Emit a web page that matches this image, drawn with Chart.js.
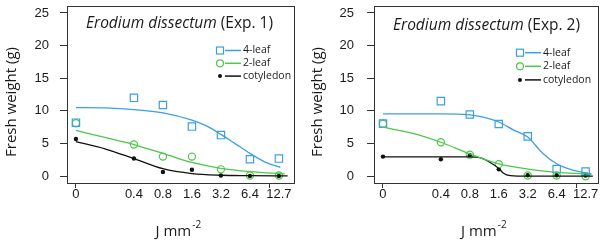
<!DOCTYPE html>
<html>
<head>
<meta charset="utf-8">
<script src="https://cdn.jsdelivr.net/npm/chart.js@4/dist/chart.umd.min.js"></script>
<style>
  html, body { margin: 0; padding: 0; background: #fff; }
  #wrap { position: relative; width: 604px; height: 240px; overflow: hidden; }
  #c1 { position: absolute; left: 0; top: 0; }
  #c2 { position: absolute; left: 300px; top: 0; }
</style>
</head>
<body>
<div id="wrap">
  <canvas id="c1" width="300" height="240"></canvas>
  <canvas id="c2" width="304" height="240"></canvas>
</div>
<script>
// x axis is categorical-ish: dose positions on an even spacing, 0 set apart
const tickLabels = ['0', '0.4', '0.8', '1.6', '3.2', '6.4', '12.7'];
const tickPos = [0, 2, 3, 4, 5, 6, 7];
const tickMarkPos = [0, 6.68];
const yTicks = [0, 5, 10, 15, 20, 25];
const seriesLabels = ['4-leaf', '2-leaf', 'cotyledon'];
const obsX = [0, 2, 3, 4, 5, 6, 7];

// Exp. 1 observations
const leaf4Obs1 = [8.2, 12.0, 10.9, 7.6, 6.3, 2.6, 2.7];
const leaf2Obs1 = [8.1, 4.85, 3.0, 3.0, 1.05, 0.1, 0.1];
const cotObs1 = [5.7, 2.7, 0.65, 1.0, 0.1, 0.05, 0.05];
// Exp. 1 fitted curves
const leaf4FitX1 = [0, 1, 2, 3, 4, 4.5, 5, 5.5, 6, 6.5, 7.05];
const leaf4Fit1 = [10.5, 10.45, 10.2, 9.7, 8.6, 7.7, 6.4, 4.95, 3.5, 2.2, 1.35];
const leaf2FitX1 = [0, 1, 2, 3, 4, 5, 6, 7.2];
const leaf2Fit1 = [7.0, 5.95, 4.85, 3.5, 2.1, 1.2, 0.7, 0.35];
const cotFitX1 = [0, 1, 2, 3, 4, 5, 6, 7.3];
const cotFit1 = [5.3, 4.2, 2.7, 1.15, 0.4, 0.15, 0.08, 0.04];

// Exp. 2 observations
const leaf4Obs2 = [8.05, 11.5, 9.45, 8.0, 6.1, 1.1, 0.7];
const leaf2Obs2 = [8.05, 5.2, 3.3, 1.85, 0.1, 0.1, 0.0];
const cotObs2 = [3.0, 2.6, 3.2, 1.05, 0.15, 0.15, 0.1];
// Exp. 2 fitted curves
const leaf4FitX2 = [0, 1, 2, 3, 3.5, 4, 4.5, 5, 5.5, 6, 6.5, 7, 7.2];
const leaf4Fit2 = [9.55, 9.55, 9.55, 9.4, 9.0, 8.3, 7.1, 6.0, 3.6, 1.9, 1.0, 0.5, 0.35];
const leaf2FitX2 = [0, 1, 2, 3, 4, 5, 6, 7, 7.2];
const leaf2Fit2 = [7.5, 6.6, 5.2, 3.4, 1.9, 1.1, 0.6, 0.35, 0.3];
const cotFitX2 = [0, 1, 2, 3, 3.35, 3.7, 4.0, 4.15, 4.4, 5, 6, 7.25];
const cotFit2 = [2.95, 2.95, 2.95, 2.95, 2.85, 2.1, 1.2, 0.5, 0.08, 0, 0, 0];

const BLUE = '#3d9fe3';
const GREEN = '#4cc84a';
const BLACK = '#111111';
const AXIS = '#333333';
const TEXT = '#1a1a1a';

Chart.defaults.font.family = '"Liberation Sans", Arial, sans-serif';
Chart.defaults.color = TEXT;

const pts = (xs, ys) => ys.map((y, i) => ({ x: xs[i], y }));

// axes must not reserve room for edge labels, the box is fixed
const noEdgePad = (s) => { s.paddingTop = 0; s.paddingBottom = 0; s.paddingLeft = 0; s.paddingRight = 0; };

const panelDecor = {
  id: 'panelDecor',
  afterDraw(chart, args, o) {
    const { ctx, chartArea: a } = chart;
    ctx.save();
    // box
    ctx.strokeStyle = AXIS;
    ctx.lineWidth = 1;
    ctx.strokeRect(Math.round(a.left) + 0.5, Math.round(a.top) + 0.5, Math.round(a.right - a.left), Math.round(a.bottom - a.top));

    // title: italic species + plain experiment
    ctx.fillStyle = TEXT;
    ctx.textBaseline = 'middle';
    ctx.textAlign = 'left';
    ctx.font = 'italic 15.5px "Open Sans", sans-serif';
    const tx = a.left + o.titleDx;
    ctx.fillText(o.species, tx, o.titleY);
    const w = ctx.measureText(o.species + ' ').width;
    ctx.font = '15.5px "Open Sans", sans-serif';
    ctx.fillText(o.exp, tx + w, o.titleY);

    // legend: marker + line + label
    ctx.font = '10.5px "Open Sans", sans-serif';
    const colors = [BLUE, GREEN, BLACK];
    seriesLabels.forEach((label, i) => {
      const y = o.legendY + i * o.legendGap;
      const mx = a.left + o.legendDx;
      ctx.strokeStyle = colors[i];
      ctx.fillStyle = colors[i];
      ctx.lineWidth = 1.2;
      if (i === 0) ctx.strokeRect(mx - 3.5, y - 3.5, 7, 7);
      if (i === 1) { ctx.beginPath(); ctx.arc(mx, y, 3.5, 0, Math.PI * 2); ctx.stroke(); }
      if (i === 2) { ctx.beginPath(); ctx.arc(mx, y, 2, 0, Math.PI * 2); ctx.fill(); }
      ctx.lineWidth = 1.5;
      ctx.beginPath(); ctx.moveTo(mx + 5, y); ctx.lineTo(mx + 21, y); ctx.stroke();
      ctx.fillStyle = TEXT;
      ctx.fillText(label, mx + 23, y);
    });

    // y title
    ctx.save();
    ctx.translate(o.yTitleX, o.yTitleY);
    ctx.rotate(-Math.PI / 2);
    ctx.textAlign = 'center';
    ctx.font = '15px "Open Sans", sans-serif';
    ctx.fillText('Fresh weight (g)', 0, 0);
    ctx.restore();

    // x title with superscript
    ctx.font = '15px "Open Sans", sans-serif';
    const main = 'J mm';
    const mw = ctx.measureText(main).width;
    ctx.font = '10px "Open Sans", sans-serif';
    const sw = ctx.measureText('-2').width;
    const cx = (a.left + a.right) / 2 - 2;
    const x0 = cx - (mw + sw + 1) / 2;
    ctx.textBaseline = 'alphabetic';
    ctx.font = '15px "Open Sans", sans-serif';
    ctx.fillText(main, x0, 236);
    ctx.font = '10px "Open Sans", sans-serif';
    ctx.fillText('-2', x0 + mw + 1, 228);
    ctx.restore();
  },
};

function makeChart(id, d, p) {
  const datasets = [
    { type: 'line', data: pts(d.leaf4FitX, d.leaf4Fit), borderColor: BLUE, borderWidth: 1.3, pointRadius: 0, cubicInterpolationMode: 'monotone' },
    { type: 'line', data: pts(d.leaf2FitX, d.leaf2Fit), borderColor: GREEN, borderWidth: 1.3, pointRadius: 0, cubicInterpolationMode: 'monotone' },
    { type: 'line', data: pts(d.cotFitX, d.cotFit), borderColor: BLACK, borderWidth: 1.3, pointRadius: 0, cubicInterpolationMode: 'monotone' },
    { type: 'scatter', data: pts(obsX, d.leaf4Obs), pointStyle: 'rect', pointRadius: 5.2, borderColor: BLUE, borderWidth: 1.2, backgroundColor: 'rgba(0,0,0,0)' },
    { type: 'scatter', data: pts(obsX, d.leaf2Obs), pointStyle: 'circle', pointRadius: 3.6, borderColor: GREEN, borderWidth: 1.2, backgroundColor: 'rgba(0,0,0,0)' },
    { type: 'scatter', data: pts(obsX, d.cotObs), pointStyle: 'circle', pointRadius: 2.2, borderColor: BLACK, borderWidth: 0, backgroundColor: BLACK },
  ];
  return new Chart(document.getElementById(id), {
    type: 'scatter',
    data: { datasets },
    options: {
      responsive: false,
      animation: false,
      events: [],
      layout: { padding: { top: 2, right: p.padRight, bottom: 0, left: 0 } },
      plugins: { legend: { display: false }, tooltip: { enabled: false }, panelDecor: p },
      scales: {
        x: {
          type: 'linear', min: p.xMin, max: p.xMax,
          afterBuildTicks: (s) => { s.ticks = [...tickPos, ...tickMarkPos].sort((m, n) => m - n).filter((v, i, arr) => arr.indexOf(v) === i).map((v) => ({ value: v })); },
          afterFit: (s) => { s.height = 57; noEdgePad(s); },
          ticks: {
            autoSkip: false, maxRotation: 0, padding: -1, font: { size: 13 },
            callback: (v) => { const i = tickPos.indexOf(v); return i < 0 ? '' : tickLabels[i]; },
          },
          grid: {
            drawOnChartArea: false, tickLength: 5, lineWidth: 1,
            tickColor: (c) => (tickMarkPos.includes(c.tick.value) ? AXIS : 'rgba(0,0,0,0)'),
          },
          border: { display: false },
        },
        y: {
          min: -1.04, max: 26.0,
          afterBuildTicks: (s) => { s.ticks = yTicks.map((v) => ({ value: v })); },
          afterFit: (s) => { s.width = p.yWidth; noEdgePad(s); },
          ticks: { padding: p.yPad, font: { size: 13 } },
          grid: { drawOnChartArea: false, tickLength: 7, tickColor: AXIS },
          border: { display: false },
        },
      },
    },
    plugins: [panelDecor],
  });
}

makeChart('c1',
  { leaf4FitX: leaf4FitX1, leaf4Fit: leaf4Fit1, leaf2FitX: leaf2FitX1, leaf2Fit: leaf2Fit1, cotFitX: cotFitX1, cotFit: cotFit1,
    leaf4Obs: leaf4Obs1, leaf2Obs: leaf2Obs1, cotObs: cotObs1 },
  { species: 'Erodium dissectum', exp: '(Exp. 1)', titleDx: 19, titleY: 23.5,
    legendDx: 153, legendY: 50.5, legendGap: 12.8, yTitleX: 12, yTitleY: 102,
    xMin: -0.308, xMax: 7.506, padRight: 4.5, yWidth: 67, yPad: 11 });

makeChart('c2',
  { leaf4FitX: leaf4FitX2, leaf4Fit: leaf4Fit2, leaf2FitX: leaf2FitX2, leaf2Fit: leaf2Fit2, cotFitX: cotFitX2, cotFit: cotFit2,
    leaf4Obs: leaf4Obs2, leaf2Obs: leaf2Obs2, cotObs: cotObs2 },
  { species: 'Erodium dissectum', exp: '(Exp. 2)', titleDx: 19, titleY: 25.5,
    legendDx: 146, legendY: 52.7, legendGap: 13.6, yTitleX: 18, yTitleY: 102,
    xMin: -0.31, xMax: 7.414, padRight: 6, yWidth: 74, yPad: 13 });
</script>
</body>
</html>
